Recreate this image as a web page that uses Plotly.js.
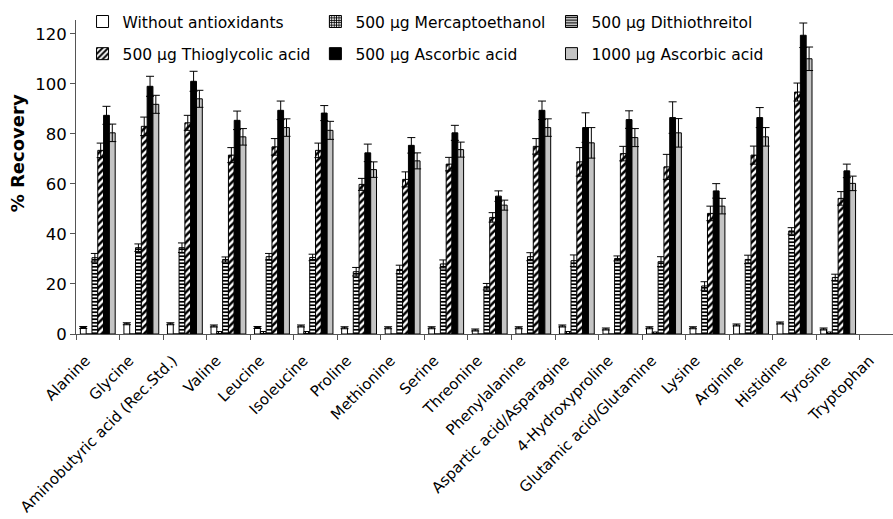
<!DOCTYPE html>
<html>
<head>
<meta charset="utf-8">
<script src="https://cdn.plot.ly/plotly-3.0.1.min.js"></script>
<style>
html, body { margin: 0; padding: 0; overflow: hidden; background: #fff; }
#chart { width: 893px; height: 519px; }
</style>
</head>
<body>
<div id="chart"></div>
<script>
var categories = ["Alanine", "Glycine", "Aminobutyric acid (Rec.Std.)", "Valine", "Leucine", "Isoleucine",
  "Proline", "Methionine", "Serine", "Threonine", "Phenylalanine", "Aspartic acid/Asparagine",
  "4-Hydroxyproline", "Glutamic acid/Glutamine", "Lysine", "Arginine", "Histidine", "Tyrosine", "Tryptophan"];

var seriesNames = ["Without antioxidants", "500 \u00b5g Mercaptoethanol", "500 \u00b5g Dithiothreitol",
  "500 \u00b5g Thioglycolic acid", "500 \u00b5g Ascorbic acid", "1000 \u00b5g Ascorbic acid"];

var without = [2.6, 4.1, 4.1, 3.2, 2.6, 3.2, 2.5, 2.5, 2.5, 1.6, 2.5, 3.2, 2.0, 2.5, 2.5, 3.6, 4.4, 2.0, null];
var withoutErr = [0.4, 0.4, 0.4, 0.4, 0.4, 0.4, 0.4, 0.4, 0.4, 0.4, 0.4, 0.4, 0.4, 0.4, 0.4, 0.4, 0.4, 0.4, null];

var mercapto = [0, 0, 0, 1.0, 1.0, 1.0, 0, 0, 0, 0, 0, 1.0, 0, 0.8, 0, 0, 0, 0.8, null];

var dtt = [30.5, 34.5, 34.5, 29.8, 30.9, 30.6, 24.9, 25.8, 28.0, 18.9, 30.9, 29.3, 30.2, 28.9, 19.2, 29.8, 41.2, 22.6, null];
var dttErr = [1.7, 1.5, 1.9, 1.0, 1.3, 1.3, 1.7, 1.7, 1.6, 1.3, 1.6, 2.3, 1.0, 2.0, 1.7, 1.7, 1.3, 1.3, null];

var thio = [73.4, 83.0, 84.4, 71.5, 74.8, 73.4, 59.8, 61.8, 67.9, 46.6, 75.0, 68.8, 72.1, 66.8, 48.2, 71.5, 96.7, 54.2, null];
var thioErr = [2.9, 3.7, 3.0, 3.0, 3.3, 2.9, 2.4, 3.0, 2.7, 1.9, 3.1, 5.7, 2.9, 5.0, 2.9, 3.6, 3.6, 2.7, null];

var asc500 = [87.4, 99.0, 101.0, 85.4, 89.4, 88.3, 72.4, 75.4, 80.4, 55.1, 89.4, 82.5, 85.7, 86.5, 57.2, 86.5, 119.4, 65.2, null];
var asc500Err = [3.6, 4.0, 4.0, 3.7, 3.7, 3.0, 3.5, 3.1, 3.0, 2.1, 3.7, 5.9, 3.5, 6.3, 2.9, 4.0, 4.9, 2.7, null];

var asc1000 = [80.4, 91.8, 94.0, 78.8, 82.5, 81.4, 65.7, 69.2, 73.7, 51.5, 82.5, 76.4, 78.5, 80.4, 51.1, 78.8, 110.0, 60.2, null];
var asc1000Err = [3.5, 3.6, 3.4, 3.3, 3.5, 3.6, 3.1, 3.2, 3.0, 2.0, 3.5, 6.1, 3.6, 5.7, 3.1, 3.7, 4.7, 2.9, null];

var yTicks = [0, 20, 40, 60, 80, 100, 120];
var yTitle = "% Recovery";

function err(arr) {
  return { type: "data", array: arr, visible: true, color: "#000", thickness: 1, width: 4 };
}

var outline = { color: "#000", width: 1 };

var traces = [
  { name: seriesNames[0], y: without, error_y: err(withoutErr), legend: "legend", legendgroup: "g0",
    marker: { color: "#fff", line: outline } },
  { name: seriesNames[1], y: mercapto, legend: "legend2", legendgroup: "g1",
    marker: { color: "#fff", line: outline, pattern: { shape: "+", fgcolor: "#000", bgcolor: "#fff", size: 3, solidity: 0.65 } } },
  { name: seriesNames[2], y: dtt, error_y: err(dttErr), legend: "legend3", legendgroup: "g2",
    marker: { color: "#fff", line: outline, pattern: { shape: "-", fgcolor: "#000", bgcolor: "#fff", size: 3.5, solidity: 0.5 } } },
  { name: seriesNames[3], y: thio, error_y: err(thioErr), legend: "legend", legendgroup: "g3",
    marker: { color: "#fff", line: outline, pattern: { shape: "/", fgcolor: "#000", bgcolor: "#fff", size: 5, solidity: 0.5 } } },
  { name: seriesNames[4], y: asc500, error_y: err(asc500Err), legend: "legend2", legendgroup: "g4",
    marker: { color: "#000", line: outline } },
  { name: seriesNames[5], y: asc1000, error_y: err(asc1000Err), legend: "legend3", legendgroup: "g5",
    marker: { color: "#c4c4c4", line: outline } }
];
traces.forEach(function (t) { t.type = "bar"; t.x = categories; t.hoverinfo = "skip"; });

var legendBase = {
  y: 1.048, yanchor: "top", xanchor: "left", orientation: "v",
  bgcolor: "rgba(0,0,0,0)", borderwidth: 0,
  font: { family: "DejaVu Sans", size: 15.5, color: "#000" },
  traceorder: "grouped", tracegroupgap: 9, itemclick: false
};

var layout = {
  width: 893, height: 519,
  margin: { l: 76, r: 0, t: 20, b: 185, pad: 0 },
  paper_bgcolor: "#fff", plot_bgcolor: "#fff",
  barmode: "group", bargap: 0.2, bargroupgap: 0,
  font: { family: "DejaVu Sans", color: "#000" },
  showlegend: true,
  legend: Object.assign({}, legendBase, { x: 0.008 }),
  legend2: Object.assign({}, legendBase, { x: 0.293 }),
  legend3: Object.assign({}, legendBase, { x: 0.582 }),
  xaxis: {
    type: "category", range: [-0.5, 18.26],
    tickson: "boundaries", ticks: "outside", ticklen: 5, tickcolor: "#555",
    showline: true, linecolor: "#555", linewidth: 1, showgrid: false, zeroline: false,
    tickangle: -45, ticklabelstandoff: 11, ticklabelshift: -12,
    tickfont: { family: "DejaVu Sans", size: 15, color: "#000" }
  },
  yaxis: {
    range: [0, 125.5], tickvals: yTicks, ticktext: yTicks.map(String),
    ticks: "outside", ticklen: 5, tickcolor: "#555",
    showline: true, linecolor: "#555", linewidth: 1, showgrid: false, zeroline: false,
    tickfont: { family: "DejaVu Sans", size: 16.5, color: "#000" }
  },
  annotations: [{
    text: yTitle, textangle: -90, xref: "paper", yref: "paper",
    x: -0.072, y: 0.576, xanchor: "center", yanchor: "middle", showarrow: false,
    font: { family: "DejaVu Sans", size: 18, weight: "bold", color: "#000" }
  }]
};

Plotly.newPlot("chart", traces, layout, { staticPlot: true, displayModeBar: false });
</script>
</body>
</html>
